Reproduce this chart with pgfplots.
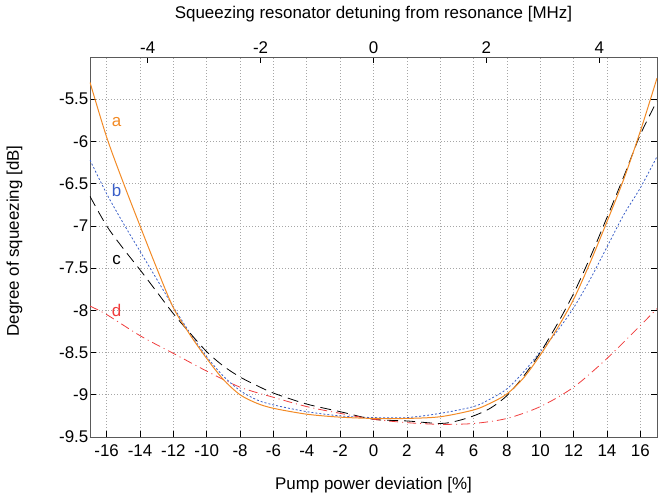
\documentclass[border=0pt]{standalone}
\usepackage{fontspec}
\setmainfont{Liberation Sans}
\usepackage{pgfplots}
\pgfplotsset{compat=1.18}
\definecolor{curveA}{HTML}{F28A25}
\definecolor{curveB}{HTML}{3A5FC8}
\definecolor{curveC}{HTML}{000000}
\definecolor{curveD}{HTML}{F03C3C}
\definecolor{framegray}{HTML}{5A5A5A}
\newcommand{\lblfont}{\fontsize{17}{20}\selectfont}

\begin{document}
\begin{tikzpicture}
\path[use as bounding box] (-90bp,-57bp) rectangle (574bp,437bp);
\begin{axis}[
  at={(0,0)}, anchor=south west, scale only axis,
  width=567bp, height=380bp,
  xmin=-17, xmax=17, ymin=-9.5, ymax=-5,
  xtick={-16,-14,-12,-10,-8,-6,-4,-2,0,2,4,6,8,10,12,14,16},
  ytick={-9.5,-9,-8.5,-8,-7.5,-7,-6.5,-6,-5.5},
  xtick pos=bottom, ytick pos=both,
  tick align=inside, major tick length=6bp,
  grid=major, grid style={gray!70, line width=0.6bp, dash pattern=on 1bp off 2bp},
  axis line style={framegray, line width=0.8bp}, tick style={black, line width=0.6bp},
  /pgf/number format/assume math mode=true,
  tick label style={font=\lblfont},
  xticklabel style={yshift=-4bp},
  yticklabel style={inner sep=1.5bp},
  label style={font=\lblfont},
  xlabel={Pump power deviation [\%]},
  xlabel style={at={(axis description cs:0.5,0)}, anchor=base, yshift=-52bp},
]
\addplot[curveB, line width=0.8bp, smooth, dash pattern=on 2bp off 2bp] coordinates {
(-17,-6.22) (-16,-6.62) (-15,-6.97) (-14,-7.3) (-13,-7.63) (-12,-7.96) (-11,-8.27) (-10,-8.55)
(-9,-8.78) (-8,-8.95) (-7,-9.06) (-6,-9.12) (-4,-9.2) (-2,-9.25) (0,-9.27) (2,-9.27) (4,-9.22)
(6,-9.14) (7,-9.05) (8,-8.93) (9,-8.73) (10,-8.49) (11,-8.25) (12,-7.97) (13,-7.63) (14,-7.25)
(15,-6.87) (16,-6.55) (17,-6.18)};
\addplot[curveC, line width=0.8bp, smooth, dash pattern=on 11bp off 6bp] coordinates {
(-17,-6.65) (-16,-7.0) (-15,-7.27) (-14,-7.52) (-13,-7.78) (-12,-8.04) (-11,-8.27) (-10,-8.49)
(-9,-8.66) (-8,-8.79) (-7,-8.89) (-6,-8.98) (-4,-9.11) (-2,-9.2) (0,-9.29) (2,-9.31) (4,-9.34)
(5,-9.31) (6,-9.25) (7,-9.16) (8,-9.01) (9,-8.78) (10,-8.5) (11,-8.17) (12,-7.8) (13,-7.37)
(14,-6.9) (15,-6.42) (16,-5.92) (17,-5.52)};
\addplot[curveD, line width=0.8bp, smooth, dash pattern=on 9bp off 4bp on 1bp off 4bp] coordinates {
(-17,-7.95) (-16,-8.05) (-14,-8.3) (-12,-8.51) (-10,-8.72) (-8,-8.91) (-6,-9.03) (-4,-9.14)
(-2,-9.22) (0,-9.29) (2,-9.33) (4,-9.35) (6,-9.34) (8,-9.28) (10,-9.14) (12,-8.91) (14,-8.57)
(16,-8.18) (17,-7.98)};
\addplot[curveA, line width=1bp, smooth] coordinates {
(-17,-5.3) (-16,-5.95) (-15,-6.49) (-14,-7.0) (-13,-7.5) (-12,-7.97) (-11,-8.29) (-10,-8.57)
(-9,-8.82) (-8,-9.0) (-7,-9.1) (-6,-9.16) (-4,-9.23) (-2,-9.265) (0,-9.28) (2,-9.28) (4,-9.26)
(6,-9.18) (7,-9.1) (8,-8.99) (9,-8.8) (10,-8.53) (11,-8.22) (12,-7.87) (13,-7.43) (14,-6.95)
(15,-6.45) (16,-5.88) (17,-5.25)};
\node[text=curveA, font=\lblfont] at (axis cs:-15.4,-5.77) {a};
\node[text=curveB, font=\lblfont] at (axis cs:-15.4,-6.58) {b};
\node[text=curveC, font=\lblfont] at (axis cs:-15.4,-7.40) {c};
\node[text=curveD, font=\lblfont] at (axis cs:-15.4,-8.0) {d};
\end{axis}
\begin{axis}[
  at={(0,0)}, anchor=south west, scale only axis,
  width=567bp, height=380bp,
  xmin=-5.022, xmax=5.022, ymin=-9.5, ymax=-5,
  axis x line*=top, axis y line=none,
  xtick={-4,-2,0,2,4},
  tick align=inside, major tick length=6bp,
  axis line style={framegray, line width=0.8bp}, tick style={black, line width=0.6bp},
  /pgf/number format/assume math mode=true,
  tick label style={font=\lblfont},
  label style={font=\lblfont},
  xlabel={Squeezing resonator detuning from resonance [MHz]},
  xlabel style={at={(axis description cs:0.5,1)}, anchor=base, yshift=38.5bp},
]
\end{axis}
\node[rotate=90, anchor=base, font=\lblfont] at (-71bp,196bp) {Degree of squeezing [dB]};
\end{tikzpicture}
\end{document}
